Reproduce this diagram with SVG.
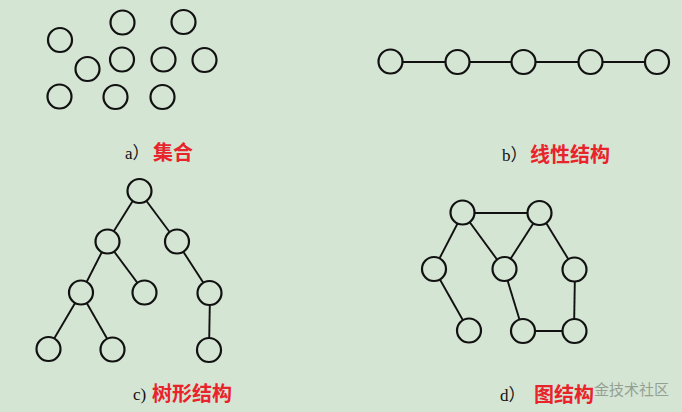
<svg xmlns="http://www.w3.org/2000/svg" width="682" height="412" viewBox="0 0 682 412">
<style>
.n{fill:#d5e5d3;stroke:#111;stroke-width:2.2}
.e{stroke:#111;stroke-width:1.9;fill:none}
.lb{font-family:"Liberation Serif","Noto Sans CJK SC",serif;font-size:17px;fill:#111}
.t{font-family:"Noto Sans CJK SC",sans-serif;font-size:20px;font-weight:bold;fill:#e8232b}
.w{font-family:"Noto Sans CJK SC",sans-serif;font-size:15px;fill:#949f94}
</style>
<rect width="682" height="412" fill="#d5e5d3"/>
<g id="connectors">
<line class="e" x1="390" y1="62" x2="657" y2="62"/>
<line class="e" x1="139" y1="191" x2="107" y2="242"/>
<line class="e" x1="139" y1="191" x2="177" y2="242"/>
<line class="e" x1="107" y1="242" x2="81" y2="293"/>
<line class="e" x1="107" y1="242" x2="145" y2="293"/>
<line class="e" x1="177" y1="242" x2="210" y2="293"/>
<line class="e" x1="81" y1="293" x2="48" y2="349"/>
<line class="e" x1="81" y1="293" x2="113" y2="349"/>
<line class="e" x1="210" y1="293" x2="209" y2="350"/>
<line class="e" x1="463" y1="213" x2="540" y2="213"/>
<line class="e" x1="463" y1="213" x2="434" y2="269"/>
<line class="e" x1="463" y1="213" x2="504" y2="269"/>
<line class="e" x1="540" y1="213" x2="504" y2="269"/>
<line class="e" x1="540" y1="213" x2="575" y2="270"/>
<line class="e" x1="434" y1="269" x2="469" y2="331"/>
<line class="e" x1="504" y1="269" x2="523" y2="331"/>
<line class="e" x1="575" y1="270" x2="574" y2="331"/>
<line class="e" x1="523" y1="331" x2="574" y2="331"/>
</g>
<g id="set">
<circle class="n" cx="60" cy="40" r="12"/>
<circle class="n" cx="122.5" cy="22.5" r="12"/>
<circle class="n" cx="183.5" cy="22" r="12"/>
<circle class="n" cx="87.5" cy="69" r="12"/>
<circle class="n" cx="122" cy="59.5" r="12"/>
<circle class="n" cx="163.5" cy="59.5" r="12"/>
<circle class="n" cx="204.5" cy="60" r="12"/>
<circle class="n" cx="59.5" cy="96.5" r="12"/>
<circle class="n" cx="115.5" cy="97" r="12"/>
<circle class="n" cx="162.5" cy="97" r="12"/>
</g>
<g id="linear">
<circle class="n" cx="390.5" cy="61.5" r="12"/>
<circle class="n" cx="457.5" cy="62" r="12"/>
<circle class="n" cx="523.5" cy="62" r="12"/>
<circle class="n" cx="590.5" cy="62" r="12"/>
<circle class="n" cx="657" cy="62" r="12"/>
</g>
<g id="tree">
<circle class="n" cx="139.5" cy="191" r="12"/>
<circle class="n" cx="107.5" cy="241.5" r="12"/>
<circle class="n" cx="177" cy="241.5" r="12"/>
<circle class="n" cx="81" cy="292.5" r="12"/>
<circle class="n" cx="144.5" cy="292.5" r="12"/>
<circle class="n" cx="209.5" cy="293" r="12"/>
<circle class="n" cx="48.5" cy="349" r="12"/>
<circle class="n" cx="112.5" cy="349.5" r="12"/>
<circle class="n" cx="209" cy="350" r="12"/>
</g>
<g id="graph">
<circle class="n" cx="462.5" cy="212.5" r="12"/>
<circle class="n" cx="539.5" cy="213" r="12"/>
<circle class="n" cx="434" cy="269" r="12"/>
<circle class="n" cx="504.5" cy="269" r="12"/>
<circle class="n" cx="574.5" cy="269.5" r="12"/>
<circle class="n" cx="469" cy="330.5" r="12"/>
<circle class="n" cx="523" cy="331" r="12"/>
<circle class="n" cx="574.5" cy="331" r="12"/>
</g>
<g id="labels">
<text class="lb" x="125" y="159">a）</text>
<text class="t" x="153" y="160">集合</text>
<text class="lb" x="502" y="161">b）</text>
<text class="t" x="530" y="162">线性结构</text>
<text class="lb" x="133" y="400">c)</text>
<text class="t" x="152" y="401">树形结构</text>
<text class="w" x="594" y="395">金技术社区</text>
<text class="lb" x="500" y="401">d）</text>
<text class="t" x="534" y="402">图结构</text>
</g>
</svg>
